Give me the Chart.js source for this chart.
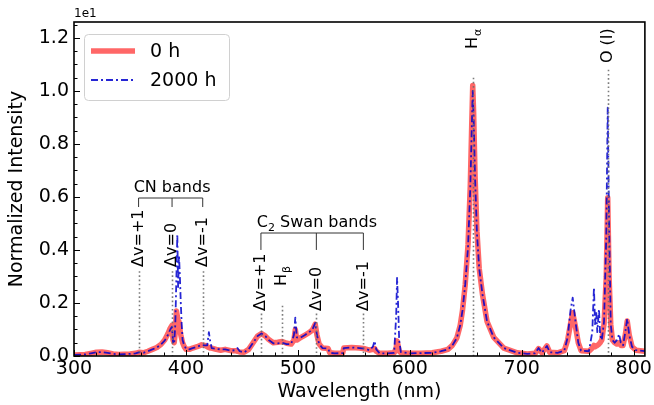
<!DOCTYPE html>
<html>
<head>
<meta charset="utf-8">
<script src="https://cdn.jsdelivr.net/npm/chart.js@4/dist/chart.umd.min.js"></script>
<style>
  html, body { margin: 0; padding: 0; background: #fff; }
  #grafico { display: block; }
</style>
</head>
<body>
<canvas id="grafico" width="654" height="405"></canvas>
<script>
// comprimento de onda (nm)
const wavelength = [
  300, 305, 310, 315, 320, 325, 330, 335, 340, 345, 350, 355, 358, 362, 366, 370, 374, 378, 381, 384,
  386, 387.5, 388.5, 389.5, 390.5, 391.5, 392.3, 393, 393.8, 394.6, 395.4, 396.2, 397, 398.5, 400, 403, 406, 410, 414, 417,
  419, 420.5, 421.5, 423, 427, 431, 435, 440, 444, 446, 448, 452, 456, 460, 464, 467.5, 471, 474, 478, 482,
  486, 490, 494, 496.5, 497.7, 499, 502, 506, 510, 513, 515.5, 517, 519, 522, 527, 528.5, 533, 540, 541, 548,
  555, 560, 564, 567, 568.5, 570, 573, 580, 586, 587.8, 588.6, 589.5, 590.5, 592, 600, 610, 620, 628, 634, 638,
  642, 645, 647, 649.5, 652, 654, 655.3, 656.2, 657, 658.3, 660, 662, 665, 669, 675, 684, 696, 705, 712, 715,
  718, 722.5, 725, 732, 738, 741, 743.5, 745.5, 748, 750.5, 753, 760, 763, 764.5, 765.5, 766.5, 767.5, 769, 770, 771.5,
  773.5, 775.5, 776.8, 778, 779.5, 781, 783, 785, 787, 788.5, 790.5, 792.5, 794.2, 796, 798.5, 802, 806, 810
];

// intensidade normalizada, 0 h
const int0h = [
  0.004, 0.005, 0.006, 0.010, 0.014, 0.015, 0.012, 0.008, 0.006, 0.007, 0.008, 0.010, 0.014, 0.012, 0.018, 0.025, 0.032, 0.045, 0.060, 0.085,
  0.105, 0.115, 0.060, 0.050, 0.090, 0.170, 0.150, 0.110, 0.130, 0.100, 0.080, 0.065, 0.050, 0.035, 0.025, 0.025, 0.030, 0.035, 0.042, 0.040,
  0.035, 0.032, 0.030, 0.030, 0.025, 0.022, 0.025, 0.020, 0.020, 0.018, 0.015, 0.014, 0.025, 0.050, 0.075, 0.085, 0.075, 0.062, 0.050, 0.052,
  0.055, 0.048, 0.045, 0.060, 0.100, 0.060, 0.068, 0.078, 0.088, 0.098, 0.120, 0.080, 0.045, 0.030, 0.028, 0.012, 0.010, 0.011, 0.030, 0.032,
  0.030, 0.027, 0.022, 0.025, 0.028, 0.018, 0.010, 0.010, 0.012, 0.030, 0.057, 0.040, 0.018, 0.012, 0.010, 0.010, 0.012, 0.018, 0.025, 0.040,
  0.068, 0.115, 0.170, 0.270, 0.420, 0.640, 0.870, 1.020, 0.920, 0.680, 0.470, 0.330, 0.230, 0.130, 0.070, 0.030, 0.012, 0.008, 0.010, 0.028,
  0.012, 0.038, 0.014, 0.012, 0.020, 0.060, 0.120, 0.163, 0.110, 0.050, 0.020, 0.018, 0.030, 0.040, 0.035, 0.038, 0.040, 0.045, 0.050, 0.060,
  0.120, 0.300, 0.597, 0.300, 0.120, 0.060, 0.050, 0.045, 0.050, 0.040, 0.040, 0.080, 0.132, 0.080, 0.035, 0.022, 0.020, 0.018
];

// intensidade normalizada, 2000 h
const int2000h = [
  0.004, 0.005, 0.006, 0.010, 0.014, 0.015, 0.012, 0.008, 0.006, 0.007, 0.008, 0.010, 0.014, 0.012, 0.018, 0.025, 0.032, 0.045, 0.058, 0.080,
  0.100, 0.110, 0.050, 0.045, 0.120, 0.300, 0.460, 0.260, 0.380, 0.300, 0.200, 0.120, 0.060, 0.040, 0.028, 0.025, 0.030, 0.035, 0.042, 0.040,
  0.040, 0.090, 0.060, 0.030, 0.027, 0.025, 0.025, 0.020, 0.022, 0.030, 0.018, 0.014, 0.025, 0.050, 0.075, 0.085, 0.075, 0.060, 0.048, 0.048,
  0.050, 0.045, 0.045, 0.080, 0.145, 0.070, 0.068, 0.078, 0.090, 0.100, 0.125, 0.080, 0.045, 0.030, 0.028, 0.012, 0.010, 0.011, 0.030, 0.032,
  0.030, 0.027, 0.022, 0.035, 0.057, 0.025, 0.010, 0.010, 0.012, 0.150, 0.295, 0.200, 0.060, 0.015, 0.010, 0.011, 0.012, 0.018, 0.025, 0.040,
  0.068, 0.115, 0.170, 0.270, 0.410, 0.630, 0.850, 1.000, 0.900, 0.670, 0.460, 0.330, 0.230, 0.130, 0.070, 0.030, 0.012, 0.008, 0.010, 0.030,
  0.012, 0.038, 0.014, 0.012, 0.020, 0.070, 0.170, 0.220, 0.130, 0.050, 0.020, 0.018, 0.090, 0.258, 0.120, 0.170, 0.090, 0.177, 0.080, 0.060,
  0.130, 0.450, 0.937, 0.500, 0.120, 0.060, 0.050, 0.060, 0.083, 0.050, 0.040, 0.090, 0.140, 0.080, 0.035, 0.022, 0.020, 0.018
];

const xTicks = [300, 400, 500, 600, 700, 800];
const yTicks = [0, 0.2, 0.4, 0.6, 0.8, 1.0, 1.2];

// linhas de referência (nm)
const linhasWl = [357.7, 387.6, 415, 467, 486.1, 516.5, 558.5, 656.3, 777.2];
const linhasTexto = ['Δv=+1', 'Δv=0', 'Δv=-1', 'Δv=+1', ['H', 'β'], 'Δv=0', 'Δv=-1', ['H', 'α'], 'O (I)'];
const linhasTopo = [0.32, 0.32, 0.32, 0.16, 0.19, 0.16, 0.16, 1.05, 1.08];
const linhasRotulo = [0.336, 0.336, 0.336, 0.17, 0.264, 0.17, 0.17, 1.158, 1.105];

const fonte = 'DejaVu Sans';

function textoRotado(ctx, x, y, txt) {
    ctx.save();
    ctx.translate(x, y);
    ctx.rotate(-Math.PI / 2);
    ctx.textAlign = 'left';
    ctx.textBaseline = 'middle';
    ctx.font = '16px "' + fonte + '"';
    if (Array.isArray(txt)) {
        ctx.fillText(txt[0], 0, 0);
        const w = ctx.measureText(txt[0]).width;
        ctx.font = '11px "' + fonte + '"';
        ctx.fillText(txt[1], w + 1, 5);
    } else {
        ctx.fillText(txt, 0, 0);
    }
    ctx.restore();
}

function chave(ctx, xs, yCima, yBaixo, partes, yTexto, xMeio) {
    ctx.save();
    ctx.strokeStyle = '#333';
    ctx.lineWidth = 1;
    ctx.beginPath();
    ctx.moveTo(xs[0], yCima);
    ctx.lineTo(xs[xs.length - 1], yCima);
    xs.forEach(x => { ctx.moveTo(x, yCima); ctx.lineTo(x, yBaixo); });
    ctx.stroke();
    // texto com subscrito
    ctx.fillStyle = '#000';
    ctx.textBaseline = 'alphabetic';
    ctx.textAlign = 'left';
    let total = 0;
    partes.forEach(p => {
        ctx.font = (p.sub ? '11px "' : '16px "') + fonte + '"';
        total += ctx.measureText(p.t).width;
    });
    let x = xMeio - total / 2;
    partes.forEach(p => {
        ctx.font = (p.sub ? '11px "' : '16px "') + fonte + '"';
        ctx.fillText(p.t, x, yTexto + (p.sub ? 4 : 0));
        x += ctx.measureText(p.t).width;
    });
    ctx.restore();
}

const decoracao = {
    id: 'decoracao',
    afterDatasetsDraw(chart) {
        const ctx = chart.ctx;
        const xs = chart.scales.x;
        const ys = chart.scales.y;
        const area = chart.chartArea;

        // linhas pontilhadas
        ctx.save();
        ctx.strokeStyle = 'rgba(110,110,110,0.9)';
        ctx.lineWidth = 1.6;
        ctx.setLineDash([1.6, 2.6]);
        linhasWl.forEach((wl, i) => {
            const x = Math.round(xs.getPixelForValue(wl)) + 0.5;
            ctx.beginPath();
            ctx.moveTo(x, ys.getPixelForValue(linhasTopo[i]));
            ctx.lineTo(x, area.bottom);
            ctx.stroke();
        });
        ctx.restore();

        ctx.fillStyle = '#000';
        linhasWl.forEach((wl, i) => {
            textoRotado(ctx, xs.getPixelForValue(wl), ys.getPixelForValue(linhasRotulo[i]), linhasTexto[i]);
        });

        // chaves das bandas
        chave(ctx, [357.7, 387.6, 415].map(v => xs.getPixelForValue(v)),
            ys.getPixelForValue(0.596), ys.getPixelForValue(0.562),
            [{ t: 'CN bands' }], ys.getPixelForValue(0.617), xs.getPixelForValue(387.6));
        chave(ctx, [467, 516.5, 558.5].map(v => xs.getPixelForValue(v)),
            ys.getPixelForValue(0.464), ys.getPixelForValue(0.40),
            [{ t: 'C' }, { t: '2', sub: true }, { t: ' Swan bands' }], ys.getPixelForValue(0.487), xs.getPixelForValue(517));

        // moldura
        ctx.save();
        ctx.strokeStyle = '#000';
        ctx.lineWidth = 1.6;
        ctx.strokeRect(area.left, area.top, area.right - area.left, area.bottom - area.top);

        // ticks para dentro
        ctx.lineWidth = 1;
        ctx.beginPath();
        for (let v = 300; v <= 810; v += 20) {
            const x = Math.round(xs.getPixelForValue(v)) + 0.5;
            const len = v % 100 === 0 ? 6 : 3.5;
            ctx.moveTo(x, area.bottom);
            ctx.lineTo(x, area.bottom - len);
        }
        for (let k = 0; k <= 25; k++) {
            const v = k * 0.05;
            const y = Math.round(ys.getPixelForValue(v)) + 0.5;
            const len = k % 4 === 0 ? 6 : 3.5;
            ctx.moveTo(area.left, y);
            ctx.lineTo(area.left + len, y);
        }
        ctx.stroke();

        // expoente do eixo y
        ctx.fillStyle = '#000';
        ctx.font = '12px "' + fonte + '"';
        ctx.textAlign = 'left';
        ctx.textBaseline = 'bottom';
        ctx.fillText('1e1', area.left, area.top - 2);
        ctx.restore();

        // legenda
        ctx.save();
        const lx = area.left + 10, ly = area.top + 12, lw = 145, lh = 66;
        ctx.fillStyle = 'rgba(255,255,255,0.8)';
        ctx.strokeStyle = '#d0d0d0';
        ctx.lineWidth = 1;
        ctx.beginPath();
        ctx.roundRect(lx + 0.5, ly + 0.5, lw, lh, 4);
        ctx.fill();
        ctx.stroke();
        const ordem = chart.data.datasets;
        ordem.forEach((ds, i) => {
            const yy = ly + 17 + i * 29;
            ctx.strokeStyle = ds.borderColor;
            ctx.lineWidth = ds.borderWidth;
            ctx.setLineDash(ds.borderDash || []);
            ctx.beginPath();
            ctx.moveTo(lx + 7, yy);
            ctx.lineTo(lx + 51, yy);
            ctx.stroke();
            ctx.setLineDash([]);
            ctx.fillStyle = '#000';
            ctx.font = '19px "' + fonte + '"';
            ctx.textAlign = 'left';
            ctx.textBaseline = 'middle';
            ctx.fillText(ds.label, lx + 66, yy + 1);
        });
        ctx.restore();
    }
};

const pontos = serie => wavelength.map((w, i) => ({ x: w, y: serie[i] }));

const ctx = document.getElementById('grafico').getContext('2d');
new Chart(ctx, {
    type: 'line',
    data: {
        datasets: [
            { label: '0 h', data: pontos(int0h), borderColor: 'rgba(255,70,70,0.82)', borderWidth: 5.5, order: 2 },
            { label: '2000 h', data: pontos(int2000h), borderColor: 'rgba(0,0,205,0.85)', borderWidth: 1.8, borderDash: [7, 3, 2, 3], order: 1 }
        ]
    },
    options: {
        responsive: false,
        animation: false,
        devicePixelRatio: 1,
        elements: { point: { radius: 0 }, line: { tension: 0, borderJoinStyle: 'round', fill: false } },
        layout: { padding: { top: 22, right: 9, left: 0, bottom: 0 } },
        plugins: { legend: { display: false }, tooltip: { enabled: false } },
        scales: {
            x: {
                type: 'linear',
                min: 300,
                max: 810,
                afterBuildTicks: s => { s.ticks = xTicks.map(v => ({ value: v })); },
                afterFit: s => { s.height = 49; },
                grid: { display: false, drawTicks: false },
                border: { display: false },
                ticks: { color: '#000', font: { family: fonte, size: 19 }, padding: 2, maxRotation: 0, autoSkip: false, callback: v => String(v) },
                title: { display: true, text: 'Wavelength (nm)', color: '#000', font: { family: fonte, size: 19 }, padding: { top: 0, bottom: 2 } }
            },
            y: {
                min: 0,
                max: 1.26,
                afterBuildTicks: s => { s.ticks = yTicks.map(v => ({ value: v })); },
                afterFit: s => { s.width = 74; },
                grid: { display: false, drawTicks: false },
                border: { display: false },
                ticks: { color: '#000', font: { family: fonte, size: 19 }, padding: 5, callback: v => v.toFixed(1) },
                title: { display: true, text: 'Normalized Intensity', color: '#000', font: { family: fonte, size: 19 }, padding: { top: 6, bottom: 0 } }
            }
        }
    },
    plugins: [decoracao]
});
</script>
</body>
</html>
